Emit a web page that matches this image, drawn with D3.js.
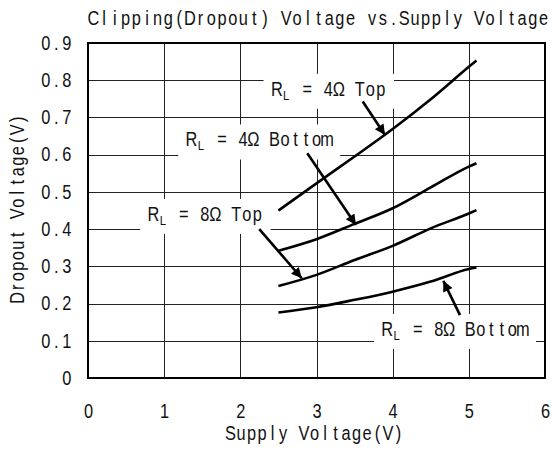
<!DOCTYPE html>
<html><head><meta charset="utf-8">
<script src="https://cdn.jsdelivr.net/npm/d3@7"></script>
<style>body{margin:0;background:#fff}svg{display:block}</style>
</head><body>
<svg id="c" width="552" height="452"></svg>
<script>
const supply = [2.5, 3, 3.5, 4, 4.5, 5, 5.1];
const rl4Top = [0.45, 0.523, 0.595, 0.669, 0.749, 0.836, 0.853];
const rl4Bottom = [0.342, 0.373, 0.414, 0.456, 0.512, 0.568, 0.577];
const rl8Top = [0.247, 0.277, 0.317, 0.355, 0.402, 0.442, 0.451];
const rl8Bottom = [0.176, 0.190, 0.210, 0.232, 0.259, 0.293, 0.297];
const xTicks = [0, 1, 2, 3, 4, 5, 6];
const yTicks = [0, 0.1, 0.2, 0.3, 0.4, 0.5, 0.6, 0.7, 0.8, 0.9];
const labelNames = ["4Ω Top", "4Ω Bottom", "8Ω Top", "8Ω Bottom"];
const labelAt = [[2.41, 0.758], [1.29, 0.622], [0.79, 0.422], [3.86, 0.113]];
const arrowFrom = [[3.607, 0.743], [2.879, 0.604], [2.249, 0.400], [4.884, 0.169]];
const arrowTo = [[3.899, 0.653], [3.518, 0.411], [2.806, 0.268], [4.665, 0.261]];

const svg = d3.select("#c");
const m = {l: 88, r: 545, t: 43, b: 378};
const x = d3.scaleLinear().domain([0, 6]).range([m.l, m.r]);
const y = d3.scaleLinear().domain([0, 0.9]).range([m.b, m.t]);
const FONT = "'Liberation Sans', Arial, sans-serif";
const FS = 19.5, ADV = 10.5, SX = 0.84;

// each character centred in a fixed-width cell, glyphs narrowed by SX
function cells(str, x0, adv) {
  return Array.from(str).map((c, i) => ((x0 + (i + 0.5) * adv) / SX).toFixed(2)).join(" ");
}
function styleText(t) {
  return t.attr("text-anchor", "middle").attr("font-family", FONT).attr("font-size", FS)
    .attr("fill", "#111").attr("transform", `scale(${SX},1)`);
}
function monoText(parent, str, x0, yb, adv) {
  return styleText(parent.append("text").attr("x", cells(str, x0, adv)).attr("y", yb).text(str));
}

// grid
const g = svg.append("g");
g.selectAll(".vg").data(xTicks.slice(1, -1)).join("line")
  .attr("x1", d => Math.round(x(d)) + 0.5).attr("x2", d => Math.round(x(d)) + 0.5).attr("y1", m.t).attr("y2", m.b)
  .attr("stroke", "#222").attr("stroke-width", 1);
g.selectAll(".hg").data(yTicks.slice(1, -1)).join("line")
  .attr("y1", d => Math.round(y(d)) + 0.5).attr("y2", d => Math.round(y(d)) + 0.5).attr("x1", m.l).attr("x2", m.r)
  .attr("stroke", "#222").attr("stroke-width", 1);

// axes
const yAxis = d3.axisLeft(y).tickValues(yTicks).tickSize(0).tickPadding(16)
  .tickFormat(d => d === 0 ? "0" : d3.format(".1f")(d));
const ya = svg.append("g").attr("transform", `translate(${m.l},0)`).call(yAxis);
ya.select(".domain").remove();
ya.selectAll("text").each(function() {
  const s = this.textContent;
  styleText(d3.select(this).attr("x", cells(s, -16 - s.length * ADV, ADV)));
});
const xAxis = d3.axisBottom(x).tickValues(xTicks).tickSize(0).tickPadding(26).tickFormat(d3.format("d"));
const xa = svg.append("g").attr("transform", `translate(0,${m.b})`).call(xAxis);
xa.select(".domain").remove();
xa.selectAll("text").each(function() {
  const s = this.textContent;
  styleText(d3.select(this).attr("x", cells(s, -s.length * ADV / 2, ADV)));
});

// series
const line = d3.line().x((d, i) => x(supply[i])).y(d => y(d)).curve(d3.curveMonotoneX);
[rl4Top, rl4Bottom, rl8Top, rl8Bottom].forEach(s => {
  svg.append("path").attr("d", line(s)).attr("fill", "none")
    .attr("stroke", "#000").attr("stroke-width", 2.6).attr("stroke-linejoin", "round");
});

// labels with white boxes
labelNames.forEach((name, i) => {
  const lg = svg.append("g");
  const rect = lg.append("rect").attr("fill", "#fff");
  const x0 = x(labelAt[i][0]), yb = y(labelAt[i][1]);
  const t = styleText(lg.append("text").attr("y", yb));
  t.append("tspan").attr("x", (x0 + 0.5 * ADV) / SX).text("R");
  t.append("tspan").attr("x", (x0 + 1.4 * ADV) / SX).attr("font-size", 13.5).attr("dy", 4).text("L");
  const rest = "\u00a0= " + name;
  t.append("tspan").attr("x", cells(rest, x0 + 1.9 * ADV, ADV)).attr("dy", -4).text(rest);
  const w = (1.9 + rest.length) * ADV;
  rect.attr("x", x0 - 8).attr("y", yb - 22).attr("width", w + 16).attr("height", 35);
});

// arrows
svg.append("defs").append("marker").attr("id", "ah").attr("viewBox", "0 0 10 10").attr("refX", 10).attr("refY", 5)
  .attr("markerWidth", 5).attr("markerHeight", 4).attr("markerUnits", "strokeWidth").attr("orient", "auto")
  .append("path").attr("d", "M0,0 L10,5 L0,10 z").attr("fill", "#000");
arrowFrom.forEach((f, i) => {
  svg.append("line").attr("x1", x(f[0])).attr("y1", y(f[1]))
    .attr("x2", x(arrowTo[i][0])).attr("y2", y(arrowTo[i][1]))
    .attr("stroke", "#000").attr("stroke-width", 2.6).attr("marker-end", "url(#ah)");
});

// frame
svg.append("rect").attr("x", m.l).attr("y", m.t).attr("width", m.r - m.l).attr("height", m.b - m.t)
  .attr("fill", "none").attr("stroke", "#000").attr("stroke-width", 2);

// titles
const title = "Clipping(Dropout) Voltage vs.Supply Voltage";
monoText(svg, title, 88, 25, 10.72);
const xt = "Supply Voltage(V)";
monoText(svg, xt, (m.l + m.r) / 2 - 2 - xt.length * ADV / 2, 440, ADV);
const yt = "Dropout Voltage(V)";
const yg = svg.append("g").attr("transform", `translate(24,${(m.t + m.b) / 2 - 2}) rotate(-90)`);
monoText(yg, yt, -yt.length * ADV / 2, 0, ADV);
</script>
</body></html>
